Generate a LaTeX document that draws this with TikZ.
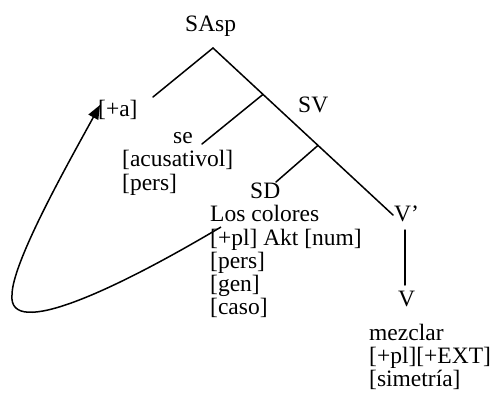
\documentclass[tikz,border=0pt]{standalone}
\usepackage{fontspec}
\setmainfont{Liberation Serif}
\usetikzlibrary{arrows.meta}
\tikzset{
  lbl/.style={inner sep=0pt, anchor=base west, font=\fontsize{23.5}{25}\selectfont},
  branch/.style={line width=1.5pt, line cap=round},
  movearrow/.style={line width=1.5pt, -{Triangle[length=14pt,width=11pt]}}
}
\begin{document}
\begin{tikzpicture}[x=1pt,y=-1pt]
\useasboundingbox (0,0) rectangle (493,393);
% labels
\node[lbl] (sasp) at (185,32) {SAsp};
\node[lbl] (pa) at (98,117) {[+a]};
\node[lbl] (sv) at (298,113) {SV};
\node[lbl] (se) at (173,144) {se};
\node[lbl] (acus) at (122,167) {[acusativol]};
\node[lbl] (pers1) at (122,190) {[pers]};
\node[lbl] (sd) at (250,199) {SD};
\node[lbl] (los) at (210,222) {Los colores};
\node[lbl] (plakt) at (210,245) {[+pl] Akt [num]};
\node[lbl] (pers2) at (210,268) {[pers]};
\node[lbl] (gen) at (210,291) {[gen]};
\node[lbl] (caso) at (210,314) {[caso]};
\node[lbl] (vbar) at (394,222) {V’};
\node[lbl] (v) at (398,306) {V};
\node[lbl] (mez) at (369,340) {mezclar};
\node[lbl] (plext) at (369,363) {[+pl][+EXT]};
\node[lbl] (sim) at (369,386) {[simetría]};
% tree points
\coordinate (apex) at (213,48);
\coordinate (leftend) at (153,97);
\coordinate (svpt) at (263,94.4);
\coordinate (seend) at (202,144);
\coordinate (sdpt) at (318,145.4);
\coordinate (sdend) at (276,182);
\coordinate (vbarend) at (393,215);
\coordinate (vtop) at (405,230);
\coordinate (vbot) at (405,285);
\draw[branch] (leftend) -- (apex) -- (vbarend);
\draw[branch] (svpt) -- (seend);
\draw[branch] (sdpt) -- (sdend);
\draw[branch] (vtop) -- (vbot);
% movement arrow
\coordinate (mvstart) at (221,227);
\coordinate (mvleft) at (12,295);
\coordinate (mvtip) at (100,105);
\draw[movearrow] (mvstart) .. controls (115,290) and (8,340) .. (mvleft)
  .. controls (12,262) and (70,160) .. (mvtip);
\end{tikzpicture}
\end{document}
